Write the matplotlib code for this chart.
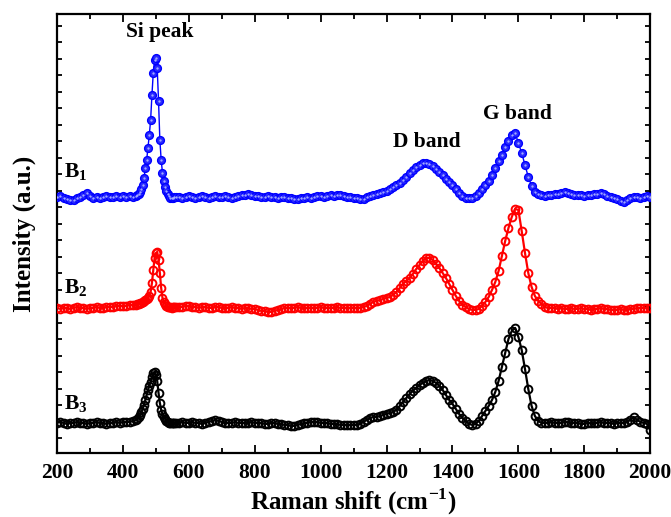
#!/usr/bin/env python3
# Raman spectra of B1/B2/B3 (stacked, offset in a.u.), Si peak + D/G bands.
import numpy as np
import matplotlib; matplotlib.use("Agg")
import matplotlib.pyplot as plt
from matplotlib.ticker import MultipleLocator

plt.rcParams["font.family"] = ["Liberation Serif", "DejaVu Serif"]
plt.rcParams["font.weight"] = "bold"
plt.rcParams["mathtext.fontset"] = "custom"
plt.rcParams["mathtext.rm"] = "Liberation Serif:bold"
plt.rcParams["mathtext.bf"] = "Liberation Serif:bold"

# Raman shift grid (cm-1): coarse, finer around the Si peak, coarse again
shift = np.concatenate([np.arange(200, 431, 10),
                        np.arange(440, 561, 4),
                        np.arange(570, 2001, 10)])

# intensities (a.u., already offset for stacking)
b1 = [256, 257, 255, 254, 253, 253, 255, 256, 258, 260, 257, 255, 256, 255, 256, 257, 256, 256, 257, 256, 257, 256, 257, 256,
      257, 258, 259, 261, 264, 268, 275, 285, 293, 305, 318, 333, 358, 380, 393, 395, 385, 352, 313, 293, 280, 272, 266, 262, 259, 257, 255, 255, 255, 256, 256,
      256, 255, 256, 257, 256, 255, 256, 257, 256, 255,
      256, 257, 256, 256, 257, 256, 255, 256, 257, 258,
      258, 259, 258, 257, 257, 256, 256, 257, 256, 256,
      255, 256, 256, 255, 255, 254, 254, 255, 255, 256,
      255, 256, 257, 257, 256, 257, 258, 257, 258, 258,
      257, 256, 256, 255, 255, 254, 254, 256, 257, 258,
      259, 260, 261, 262, 264, 266, 268, 270, 273, 276,
      280, 283, 286, 288, 290, 290, 289, 287, 284, 281,
      278, 274, 271, 268, 264, 260, 257, 255, 255, 255,
      257, 260, 264, 268, 272, 278, 285, 292, 298, 306,
      312, 318, 320, 310, 300, 288, 276, 267, 261, 259,
      258, 257, 258, 258, 259, 259, 260, 261, 260, 259,
      258, 258, 258, 257, 258, 258, 259, 259, 260, 259,
      257, 256, 255, 254, 252, 251, 253, 255, 256, 256,
      255, 256, 257, 256]

b2 = [145, 144, 145, 145, 144, 145, 146, 145, 145, 144, 145, 145, 146, 145, 145, 146, 146, 146, 147, 147, 147, 147, 148, 148,
      148, 149, 149, 150, 150, 151, 152, 153, 154, 155, 157, 161, 170, 183, 195, 200, 201, 193, 180, 165, 155, 151, 149, 147, 146, 146, 146, 145, 146, 146, 146,
      146, 146, 147, 147, 146, 146, 145, 146, 146, 145,
      145, 146, 146, 145, 145, 145, 146, 145, 145, 144,
      145, 145, 144, 144, 143, 142, 142, 141, 141, 142,
      143, 144, 145, 145, 145, 145, 146, 145, 145, 145,
      145, 145, 145, 146, 145, 145, 145, 145, 146, 145,
      145, 145, 145, 145, 145, 145, 146, 147, 149, 151,
      152, 153, 154, 155, 156, 158, 161, 165, 169, 172,
      175, 179, 184, 188, 192, 195, 195, 193, 189, 185,
      180, 175, 169, 163, 157, 152, 148, 146, 144, 143,
      143, 144, 147, 151, 156, 163, 171, 182, 197, 212,
      225, 236, 244, 243, 222, 200, 180, 166, 157, 152,
      149, 146, 145, 145, 145, 144, 145, 144, 144, 145,
      144, 144, 145, 144, 144, 143, 144, 144, 145, 144,
      144, 143, 143, 143, 144, 143, 143, 144, 144, 145,
      145, 145, 145, 145]

b3 = [30, 31, 30, 29, 30, 30, 31, 30, 30, 29, 30, 30, 31, 30, 30, 29, 30, 30, 31, 30, 31, 31, 31, 32,
      33, 34, 36, 38, 41, 44, 48, 53, 58, 63, 67, 71, 76, 80, 81, 78, 72, 60, 50, 43, 39, 36, 34, 32, 31, 30, 30, 30, 30, 30, 30,
      30, 31, 30, 30, 31, 30, 30, 29, 30, 31,
      32, 33, 32, 31, 30, 30, 30, 31, 30, 30,
      30, 30, 31, 30, 30, 30, 29, 29, 30, 30,
      29, 29, 28, 28, 27, 27, 28, 29, 30, 30,
      31, 31, 31, 30, 30, 30, 29, 29, 29, 28,
      28, 28, 28, 28, 28, 29, 31, 33, 35, 36,
      36, 37, 38, 39, 40, 41, 43, 47, 51, 55,
      59, 62, 65, 68, 70, 72, 73, 72, 70, 67,
      63, 58, 53, 49, 44, 39, 35, 32, 29, 28,
      29, 32, 37, 42, 47, 53, 61, 72, 86, 100,
      114, 122, 125, 116, 103, 84, 64, 47, 37, 32,
      30, 30, 30, 31, 30, 30, 30, 31, 31, 30,
      30, 30, 29, 29, 30, 30, 30, 30, 31, 30,
      30, 30, 29, 30, 30, 30, 31, 33, 36, 33,
      31, 30, 29, 23]

series = [("B$_1$", b1, "#0000ff", 281),
          ("B$_2$", b2, "#ff0000", 165),
          ("B$_3$", b3, "#000000", 49)]

fig = plt.figure(figsize=(6.71, 5.17), dpi=100)
ax = fig.add_axes([0.085, 0.124, 0.884, 0.849])

for lab, y, c, ty in series:
    y = np.asarray(y)
    if c == "#0000ff":
        ax.plot(shift, y, "-", color=c, lw=1.0, zorder=2)
        ax.plot(shift, y, "o", ms=5.6, mfc="#2a2aff", mec=c, mew=1.0, zorder=3)
        ax.plot(shift, y, ".", ms=1.3, color="#a8b0ff", zorder=4)
    else:
        ax.plot(shift, y, "-", color=c, lw=1.6, zorder=2)
        ax.plot(shift, y, "o", ms=5.6, mfc="none", mec=c, mew=1.4, zorder=3)
    ax.text(222, ty, lab, fontsize=15.5, fontweight="bold", ha="left", va="center")

ax.text(513, 421, "Si peak", fontsize=15.5, fontweight="bold", ha="center", va="center")
ax.text(1323, 311, "D band", fontsize=15.5, fontweight="bold", ha="center", va="center")
ax.text(1597, 339, "G band", fontsize=15.5, fontweight="bold", ha="center", va="center")

ax.set_xlim(200, 2000)
ax.set_ylim(0, 439)
ax.xaxis.set_major_locator(MultipleLocator(200))
ax.xaxis.set_minor_locator(MultipleLocator(100))
ax.set_yticks(np.arange(14.7, 439, 16.5))
ax.set_yticklabels([])
ax.tick_params(axis="both", which="both", direction="in", top=True, right=True, width=1.3)
ax.tick_params(axis="x", which="major", length=6, labelsize=15.5, pad=7)
ax.tick_params(axis="x", which="minor", length=3.5)
ax.tick_params(axis="y", length=3.5)
for lbl in ax.get_xticklabels():
    lbl.set_fontweight("bold")
for sp in ax.spines.values():
    sp.set_linewidth(1.6)

ax.set_xlabel("Raman shift (cm$^{-1}$)", fontsize=18, fontweight="bold", labelpad=3)
ax.set_ylabel("Intensity (a.u.)", fontsize=18, fontweight="bold", labelpad=12)

fig.savefig("out.png", dpi=100)
